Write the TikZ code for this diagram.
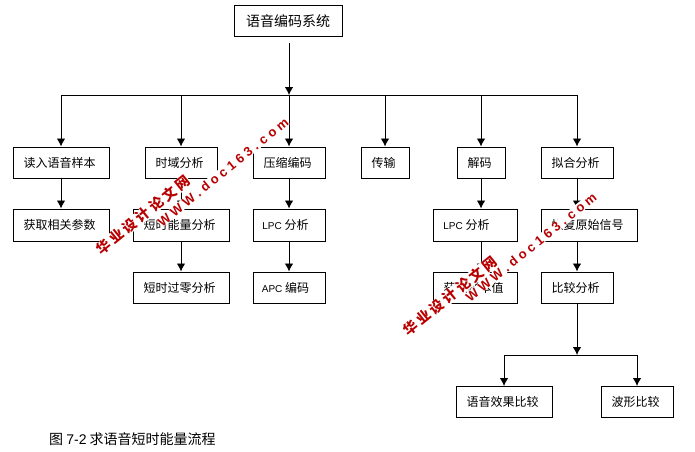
\documentclass[tikz,border=0pt]{standalone}
\usepackage{fontspec}
\usetikzlibrary{arrows.meta}
\setmainfont{Noto Sans CJK SC}
\newfontfamily\lat{Liberation Sans}
\newcommand{\tx}[1]{#1\kern3pt}
\newcommand{\lt}[1]{{\lat\fontsize{10}{11}\selectfont #1}}
\begin{document}
\begin{tikzpicture}[x=1pt,y=-1pt,
  bx/.style={draw=black,line width=1pt,inner sep=0pt,font=\fontsize{12}{13}\selectfont,text=black},
  arr/.style={draw=black,line width=0.9pt,-{Latex[length=8pt,width=8.5pt]}},
  ln/.style={draw=black,line width=0.9pt},
  wm/.style={fill=white,text=red!72!black,font=\fontsize{14}{15}\selectfont\bfseries,rotate=39,inner sep=0pt}]
\useasboundingbox (0,0) rectangle (695,451);
\node[bx,font=\fontsize{14}{15}\selectfont,minimum width=108pt,minimum height=31pt] (top) at (288,21) {语音编码系统};
\node[bx,minimum width=96pt,minimum height=31pt] (a1) at (61,162.5) {\tx{读入语音样本}};
\node[bx,minimum width=72pt,minimum height=31pt] (b1) at (181,162.5) {\tx{时域分析}};
\node[bx,minimum width=72pt,minimum height=31pt] (c1) at (289,162.5) {\tx{压缩编码}};
\node[bx,minimum width=48pt,minimum height=31pt] (d1) at (385,162.5) {\tx{传输}};
\node[bx,minimum width=48pt,minimum height=31pt] (e1) at (481,162.5) {\tx{解码}};
\node[bx,minimum width=72pt,minimum height=31pt] (f1) at (577,162.5) {\tx{拟合分析}};
\node[bx,minimum width=96pt,minimum height=32pt] (a2) at (61,225) {\tx{获取相关参数}};
\node[bx,minimum width=96pt,minimum height=32pt] (b2) at (181,225) {\tx{短时能量分析}};
\node[bx,minimum width=72pt,minimum height=32pt] (c2) at (289,225) {\tx{\lt{LPC} 分析}\kern4pt};
\node[bx,minimum width=84pt,minimum height=32pt] (e2) at (475,225) {\tx{\lt{LPC} 分析}\kern14pt};
\node[bx,minimum width=96pt,minimum height=32pt] (f2) at (589,225) {\tx{恢复原始信号}};
\node[bx,minimum width=96pt,minimum height=31pt] (b3) at (181,287.5) {\tx{短时过零分析}};
\node[bx,minimum width=72pt,minimum height=31pt] (c3) at (289,287.5) {\tx{\lt{APC} 编码}\kern4pt};
\node[bx,minimum width=84pt,minimum height=31pt] (e3) at (475,287.5) {\tx{获取样本值}};
\node[bx,minimum width=72pt,minimum height=31pt] (f3) at (577,287.5) {\tx{比较分析}};
\node[bx,minimum width=96pt,minimum height=31pt] (g1) at (504,402) {\tx{语音效果比较}};
\node[bx,minimum width=72pt,minimum height=31pt] (g2) at (637,402) {\tx{波形比较}};
\coordinate (hub) at (289,95);
\coordinate (start) at (289,43);
\coordinate (split) at (577,355);
\draw[arr] (start) -- (hub);
\draw[ln] (a1.north |- hub) -- (f1.north |- hub);
\foreach \n in {a1,b1,c1,d1,e1,f1} \draw[arr] (\n.north |- hub) -- (\n.north);
\draw[arr] (a1) -- (a2);
\draw[arr] (b1) -- (b1 |- b2.north);
\draw[arr] (b2) -- (b3);
\draw[arr] (c1) -- (c2);
\draw[arr] (c2) -- (c3);
\draw[arr] (e1) -- (e1 |- e2.north);
\draw[arr] (e1 |- e2.south) -- (e1 |- e3.north);
\draw[arr] (f1) -- (f1 |- f2.north);
\draw[arr] (f1 |- f2.south) -- (f3.north);
\draw[arr] (f3) -- (split);
\draw[ln] (g1.north |- split) -- (g2.north |- split);
\draw[arr] (g1.north |- split) -- (g1);
\draw[arr] (g2.north |- split) -- (g2);
\node[anchor=west,inner sep=0pt,font=\fontsize{14}{15}\selectfont,text=black] (cap) at (49,439) {图 {\lat 7-2} 求语音短时能量流程};
\newcommand{\wa}{华\kern3pt 业\kern3pt 设\kern3pt 计\kern3pt 论\kern3pt 文\kern3pt 网}
\newcommand{\wb}{{\lat\bfseries\fontsize{13}{14}\selectfont W W W . d o c 1 6 3 . c o m}}
\node[wm] (w1) at (143,215) {\wa};
\node[wm] (w2) at (223,172) {\wb};
\node[wm] (w3) at (450,296) {\wa};
\node[wm] (w4) at (531,247) {\wb};
\end{tikzpicture}
\end{document}
